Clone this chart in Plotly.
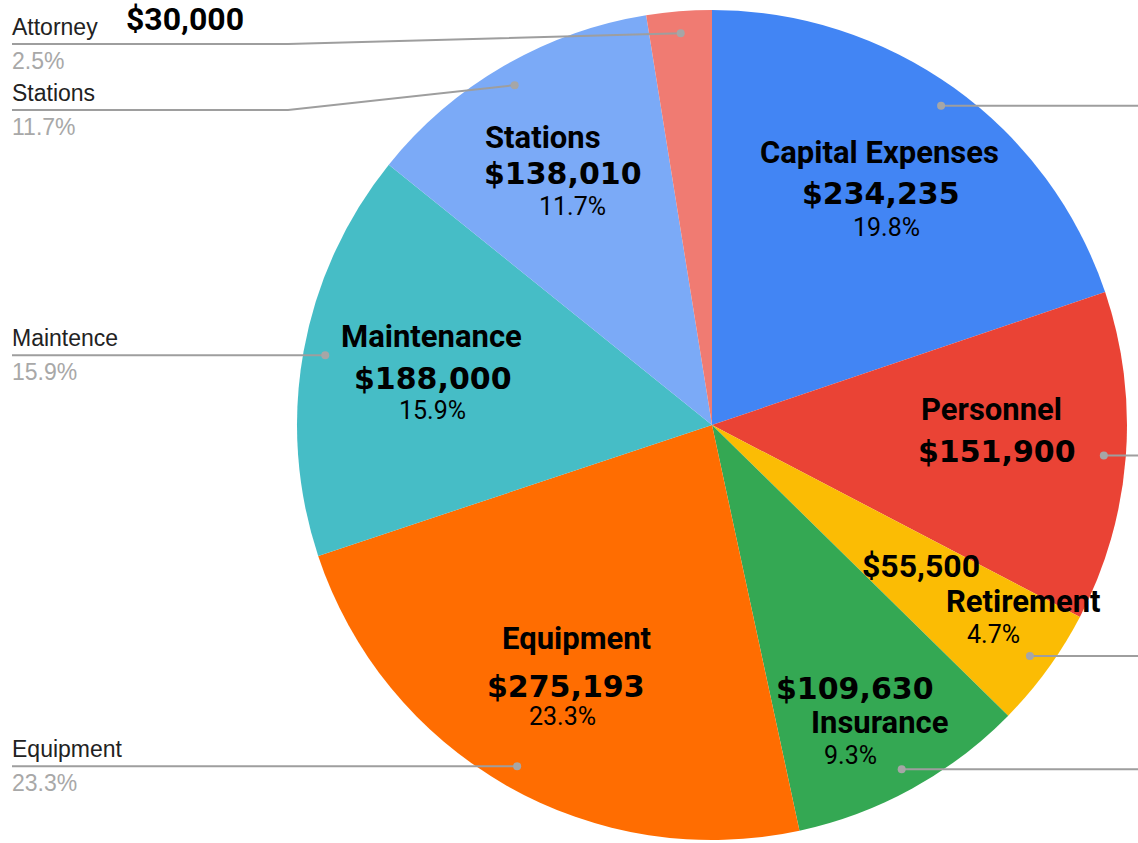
import math
import plotly.graph_objects as go

# ---- data ----
categories = ["Capital Expenses", "Personnel", "Retirement", "Insurance",
              "Equipment", "Maintenance", "Stations", "Attorney"]
amounts = [234235, 151900, 55500, 109630, 275193, 188000, 138010, 30000]
colors = ["#4285F4", "#EA4335", "#FBBC04", "#34A853",
          "#FF6D01", "#46BDC6", "#7BAAF7", "#F07B72"]
left_names = ["Attorney", "Stations", "Maintence", "Equipment"]
left_pcts = ["2.5%", "11.7%", "15.9%", "23.3%"]
right_cats = ["Capital Expenses", "Personnel", "Retirement", "Insurance"]

# ---- layout geometry (pixels in the screenshot) ----
W, H = 1138, 843
CX, CY, R = 712, 425, 415
DOT_FRAC = 0.947

def px(x):
    return x / W

def py(y):
    return 1 - y / H

total = sum(amounts)
mid_angle = {}
cum = 0
for c, v in zip(categories, amounts):
    mid_angle[c] = 2 * math.pi * (cum + v / 2) / total
    cum += v

def dot_xy(cat):
    a = mid_angle[cat]
    return CX + DOT_FRAC * R * math.sin(a), CY - DOT_FRAC * R * math.cos(a)

fig = go.Figure()
fig.add_trace(go.Pie(
    labels=categories, values=amounts, sort=False, direction="clockwise",
    rotation=0, textinfo="none", hoverinfo="label+value+percent",
    marker=dict(colors=colors, line=dict(width=0)),
    domain=dict(x=[px(CX - R), min(1, px(CX + R))], y=[max(0, py(CY + R)), py(CY - R)]),
    showlegend=False,
))

shapes = []
annotations = []
LINE_COL = "#9e9e9e"

def add_dot(x, y):
    r = 4
    shapes.append(dict(type="circle", xref="paper", yref="paper",
                       x0=px(x - r), x1=px(x + r), y0=py(y + r), y1=py(y - r),
                       fillcolor="#a6a6a6", line=dict(width=0)))

def add_line(pts):
    path = "M " + " L ".join(f"{px(x)},{py(y)}" for x, y in pts)
    shapes.append(dict(type="path", xref="paper", yref="paper", path=path,
                       line=dict(color=LINE_COL, width=2)))

# left side leader lines
left_cats = ["Attorney", "Stations", "Maintenance", "Equipment"]
left_line_y = {"Attorney": 44, "Stations": 110}
LX0, ELBOW = 12, 288
for cat, name, pct in zip(left_cats, left_names, left_pcts):
    dx, dy = dot_xy(cat)
    ly = left_line_y.get(cat, dy)
    if cat in left_line_y:
        add_line([(LX0, ly), (ELBOW, ly), (dx, dy)])
    else:
        add_line([(LX0, ly), (dx, dy)])
    add_dot(dx, dy)
    annotations.append(dict(x=px(LX0 - 2), y=py(ly - 2), xref="paper", yref="paper",
                            text=name, showarrow=False, xanchor="left", yanchor="bottom",
                            font=dict(family="Liberation Sans", size=23, color="#222222")))
    annotations.append(dict(x=px(LX0 - 2), y=py(ly + 2), xref="paper", yref="paper",
                            text=pct, showarrow=False, xanchor="left", yanchor="top",
                            font=dict(family="Liberation Sans", size=23, color="#a8a8a8")))

# right side leader lines (run off the edge)
for cat in right_cats:
    dx, dy = dot_xy(cat)
    add_line([(dx, dy), (W + 20, dy)])
    add_dot(dx, dy)

# ---- in-slice labels ----
NAME_F = dict(family="Roboto", size=31, color="#000000")
MONEY_F = dict(family="DejaVu Sans", size=30, color="#000000")
MONEY2_F = dict(family="Roboto", size=32, color="#000000")
PCT_F = dict(family="Roboto", size=25, color="#000000")

def fmt_money(v):
    return f"${v:,}"

amt = dict(zip(categories, amounts))
pct = {c: f"{100 * v / total:.1f}%" for c, v in amt.items()}

labels = [
    # (text, x, y, font)
    ("<b>Capital Expenses</b>", 879, 153, NAME_F),
    (f"<b>{fmt_money(amt['Capital Expenses'])}</b>", 881, 193, MONEY_F),
    (pct["Capital Expenses"], 886, 227, PCT_F),
    ("<b>Personnel</b>", 991, 409, NAME_F),
    (f"<b>{fmt_money(amt['Personnel'])}</b>", 997, 451, MONEY_F),
    (f"<b>{fmt_money(amt['Retirement'])}</b>", 921, 566, MONEY2_F),
    ("<b>Retirement</b>", 1023, 601, NAME_F),
    (pct["Retirement"], 993, 634, PCT_F),
    (f"<b>{fmt_money(amt['Insurance'])}</b>", 855, 688, MONEY_F),
    ("<b>Insurance</b>", 879, 722, NAME_F),
    (pct["Insurance"], 850, 755, PCT_F),
    ("<b>Equipment</b>", 576, 638, NAME_F),
    (f"<b>{fmt_money(amt['Equipment'])}</b>", 566, 686, MONEY_F),
    (pct["Equipment"], 562, 716, PCT_F),
    ("<b>Maintenance</b>", 431, 337, NAME_F),
    (f"<b>{fmt_money(amt['Maintenance'])}</b>", 433, 378, MONEY_F),
    (pct["Maintenance"], 433, 410, PCT_F),
    ("<b>Stations</b>", 543, 137, NAME_F),
    (f"<b>{fmt_money(amt['Stations'])}</b>", 563, 173, MONEY_F),
    (pct["Stations"], 572, 206, PCT_F),
    (f"<b>{fmt_money(amt['Attorney'])}</b>", 185, 19, MONEY2_F),
]
for text, x, y, f in labels:
    annotations.append(dict(x=px(x), y=py(y), xref="paper", yref="paper", text=text,
                            showarrow=False, xanchor="center", yanchor="middle", font=f))

fig.update_layout(
    width=W, height=H, margin=dict(l=0, r=0, t=0, b=0),
    paper_bgcolor="white", plot_bgcolor="white",
    shapes=shapes, annotations=annotations, showlegend=False,
)
fig.write_html(
    "out.html",
    config={"displayModeBar": False},
    post_script="document.body.style.margin='0';document.body.style.overflow='hidden';",
)
